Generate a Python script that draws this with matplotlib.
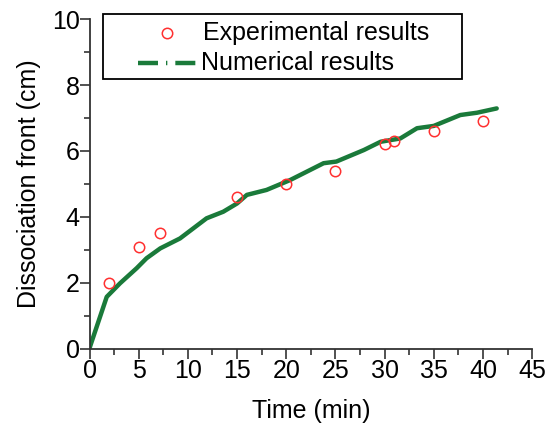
import numpy as np
import matplotlib
matplotlib.use("Agg")
from matplotlib import pyplot as plt
from matplotlib.lines import Line2D
from matplotlib.patches import Rectangle
from matplotlib.ticker import MultipleLocator

plt.rcParams['font.family'] = ['Liberation Sans', 'DejaVu Sans']

# Experimental points
exp_time = [2, 5, 7.2, 15, 20, 25, 30, 31, 35, 40]
exp_front = [2.0, 3.1, 3.5, 4.6, 5.0, 5.4, 6.2, 6.3, 6.6, 6.9]

# Numerical curve
num_time = [0, 0.05, 1.75, 3.1, 4.8, 5.8, 7.2, 9.2, 11.9, 13.6, 15.0, 16.0, 18.0,
            20.4, 23.8, 25.1, 27.9, 29.6, 31.6, 33.3, 35.0, 37.7, 39.4, 41.4]
num_front = [0, 0.07, 1.58, 1.99, 2.45, 2.75, 3.05, 3.35, 3.96, 4.16, 4.41, 4.67, 4.82,
             5.12, 5.63, 5.68, 6.03, 6.28, 6.38, 6.69, 6.76, 7.09, 7.16, 7.29]

labels = ["Experimental results", "Numerical results"]

green = "#1a7a3a"
red = "#ff3030"
W, H = 556, 428

fig = plt.figure(figsize=(5.56, 4.28), dpi=100)
ax = fig.add_axes([0.161, 0.1846, 0.796, 0.771])

ax.plot(num_time, num_front, color=green, lw=3.2, solid_capstyle='round')
ax.plot(exp_time, exp_front, 'o', ms=7.5, mfc='none', mec=red, mew=1.1)

ax.set_xlim(0, 45)
ax.set_ylim(0, 10)
ax.xaxis.set_major_locator(MultipleLocator(5))
ax.xaxis.set_minor_locator(MultipleLocator(2.5))
ax.yaxis.set_major_locator(MultipleLocator(2))
ax.yaxis.set_minor_locator(MultipleLocator(1))

for s in ['top', 'right']:
    ax.spines[s].set_visible(False)
for s in ['left', 'bottom']:
    ax.spines[s].set_linewidth(1.3)
    ax.spines[s].set_color('#333333')

ax.tick_params(which='major', direction='out', length=7, width=1.2, labelsize=18, pad=0, color='#333333')
ax.tick_params(which='minor', direction='out', length=4, width=1.2, color='#333333')

ax.set_xlabel("Time (min)", fontsize=18, labelpad=12)
ax.set_ylabel("Dissociation front (cm)", fontsize=18, labelpad=8)

# legend drawn by hand in figure pixels (top-left origin)
def fx(px):
    return px / W

def fy(py):
    return 1 - py / H

fig.patches.append(Rectangle((fx(103), fy(79)), fx(462) - fx(103), fy(14) - fy(79),
                             transform=fig.transFigure, fill=False, ec='black', lw=1.3))
fig.lines.append(Line2D([fx(167)], [fy(33)], transform=fig.transFigure, ls='none',
                        marker='o', ms=7.5, mfc='none', mec=red, mew=1.1))
fig.lines.append(Line2D([fx(138), fx(197)], [fy(63), fy(63)], transform=fig.transFigure,
                        color=green, lw=3.2, dashes=(4.5, 1.8, 0.3, 1.8)))
fig.text(fx(203), fy(33), labels[0], fontsize=18, va='center', ha='left')
fig.text(fx(201), fy(63), labels[1], fontsize=18, va='center', ha='left')

fig.savefig("out.png", dpi=100)
